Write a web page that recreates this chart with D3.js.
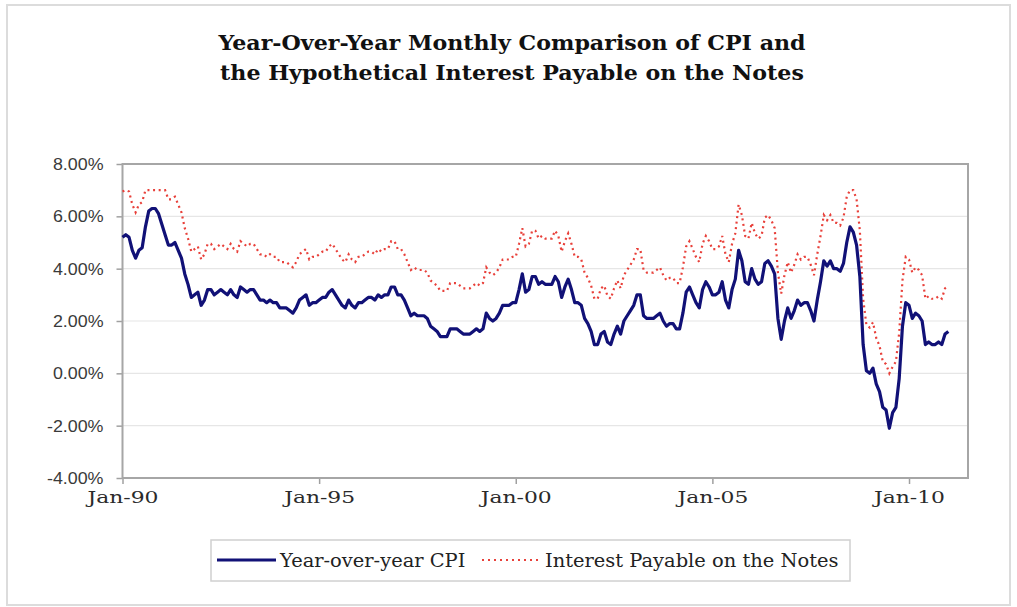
<!DOCTYPE html>
<html><head><meta charset="utf-8">
<script src="https://cdn.jsdelivr.net/npm/d3@7/dist/d3.min.js"></script>
<style>body{margin:0;background:#fff}svg{display:block}</style>
</head><body>
<svg id="c" width="1017" height="607"></svg>
<script>
// Year-over-year CPI, monthly Jan-1990 .. Jan-2011 (percent)
const cpi = [
5.2,5.3,5.2,4.7,4.4,4.7,4.8,5.6,6.2,6.3,6.3,6.1,
5.7,5.3,4.9,4.9,5.0,4.7,4.4,3.8,3.4,2.9,3.0,3.1,
2.6,2.8,3.2,3.2,3.0,3.1,3.2,3.1,3.0,3.2,3.0,2.9,
3.3,3.2,3.1,3.2,3.2,3.0,2.8,2.8,2.7,2.8,2.7,2.7,
2.5,2.5,2.5,2.4,2.3,2.5,2.8,2.9,3.0,2.6,2.7,2.7,
2.8,2.9,2.9,3.1,3.2,3.0,2.8,2.6,2.5,2.8,2.6,2.5,
2.7,2.7,2.8,2.9,2.9,2.8,3.0,2.9,3.0,3.0,3.3,3.3,
3.0,3.0,2.8,2.5,2.2,2.3,2.2,2.2,2.2,2.1,1.8,1.7,
1.6,1.4,1.4,1.4,1.7,1.7,1.7,1.6,1.5,1.5,1.5,1.6,
1.7,1.6,1.7,2.3,2.1,2.0,2.1,2.3,2.6,2.6,2.6,2.7,
2.7,3.2,3.8,3.1,3.2,3.7,3.7,3.4,3.5,3.4,3.4,3.4,
3.7,3.5,2.9,3.3,3.6,3.2,2.7,2.7,2.6,2.1,1.9,1.6,
1.1,1.1,1.5,1.6,1.2,1.1,1.5,1.8,1.5,2.0,2.2,2.4,
2.6,3.0,3.0,2.2,2.1,2.1,2.1,2.2,2.3,2.0,1.8,1.9,
1.9,1.7,1.7,2.3,3.1,3.3,3.0,2.7,2.5,3.2,3.5,3.3,
3.0,3.0,3.1,3.5,2.8,2.5,3.2,3.6,4.7,4.3,3.5,3.4,
4.0,3.6,3.4,3.5,4.2,4.3,4.1,3.8,2.1,1.3,2.0,2.5,
2.1,2.4,2.8,2.6,2.7,2.7,2.4,2.0,2.8,3.5,4.3,4.1,
4.3,4.0,4.0,3.9,4.2,5.0,5.6,5.4,4.9,3.7,1.1,0.1,
0.0,0.2,-0.4,-0.7,-1.3,-1.4,-2.1,-1.5,-1.3,-0.2,1.8,2.7,
2.6,2.1,2.3,2.2,2.0,1.1,1.2,1.1,1.1,1.2,1.1,1.5,
1.6
];
// Interest payable on the notes, monthly Jan-1990 .. Jan-2011 (percent)
const notes = [
6.95,7.0,6.95,6.45,6.15,6.45,6.55,7.0,7.0,7.0,7.0,7.0,
7.0,7.0,6.65,6.65,6.75,6.45,6.15,5.55,5.15,4.65,4.75,4.85,
4.35,4.55,4.95,4.95,4.75,4.85,4.95,4.85,4.75,4.95,4.75,4.65,
5.05,4.95,4.85,4.95,4.95,4.75,4.55,4.55,4.45,4.55,4.45,4.45,
4.25,4.25,4.25,4.15,4.05,4.25,4.55,4.65,4.75,4.35,4.45,4.45,
4.55,4.65,4.65,4.85,4.95,4.75,4.55,4.35,4.25,4.55,4.35,4.25,
4.45,4.45,4.55,4.65,4.65,4.55,4.75,4.65,4.75,4.75,5.05,5.05,
4.75,4.75,4.55,4.25,3.95,4.05,3.95,3.95,3.95,3.85,3.55,3.45,
3.35,3.15,3.15,3.15,3.45,3.45,3.45,3.35,3.25,3.25,3.25,3.35,
3.45,3.35,3.45,4.05,3.85,3.75,3.85,4.05,4.35,4.35,4.35,4.45,
4.45,4.95,5.55,4.85,4.95,5.45,5.45,5.15,5.25,5.15,5.15,5.15,
5.45,5.25,4.65,5.05,5.35,4.95,4.45,4.45,4.35,3.85,3.65,3.35,
2.85,2.85,3.25,3.35,2.95,2.85,3.25,3.55,3.25,3.75,3.95,4.15,
4.35,4.75,4.75,3.95,3.85,3.85,3.85,3.95,4.05,3.75,3.55,3.65,
3.65,3.45,3.45,4.05,4.85,5.05,4.75,4.45,4.25,4.95,5.25,5.05,
4.75,4.75,4.85,5.25,4.55,4.25,4.95,5.35,6.45,6.05,5.25,5.15,
5.75,5.35,5.15,5.25,5.95,6.05,5.85,5.55,3.85,3.05,3.75,4.25,
3.85,4.15,4.55,4.35,4.45,4.45,4.15,3.75,4.55,5.25,6.05,5.85,
6.05,5.75,5.75,5.65,5.95,6.75,7.0,7.0,6.65,5.45,2.85,1.85,
1.75,1.95,1.35,1.05,0.45,0.35,0.0,0.25,0.45,1.55,3.55,4.45,
4.35,3.85,4.05,3.95,3.75,2.85,2.95,2.85,2.85,2.95,2.85,3.25,
3.35
];
const tickMonths = [0, 60, 120, 180, 240];
const tickLabels = ["Jan-90", "Jan-95", "Jan-00", "Jan-05", "Jan-10"];
const yTicks = [-4, -2, 0, 2, 4, 6, 8];
const titleLines = ["Year-Over-Year Monthly Comparison of CPI and",
                    "the Hypothetical Interest Payable on the Notes"];
const seriesNames = ["Year-over-year CPI", "Interest Payable on the Notes"];

const svg = d3.select("#c");
const plot = {left: 122.5, right: 968, top: 164, bottom: 478};

// outer frame
svg.append("rect").attr("x", 7).attr("y", 5).attr("width", 1003).attr("height", 600)
  .attr("fill", "#fff").attr("stroke", "#dcdcdc").attr("stroke-width", 2);

const x = d3.scaleLinear().domain([0, 258]).range([plot.left, plot.right]);
const y = d3.scaleLinear().domain([-4, 8]).range([plot.bottom, plot.top]);

function stretch(sel, target) {
  sel.each(function() {
    const len = this.getComputedTextLength();
    d3.select(this).attr("textLength", target(len)).attr("lengthAdjust", "spacingAndGlyphs");
  });
}

// gridlines
svg.append("g").selectAll("line").data(yTicks.filter(d => d > -4 && d < 8)).join("line")
  .attr("x1", plot.left).attr("x2", plot.right)
  .attr("y1", d => y(d)).attr("y2", d => y(d))
  .attr("stroke", "#e6e6e6").attr("stroke-width", 1.2);

// y axis
const yAxis = svg.append("g").attr("transform", `translate(${plot.left},0)`)
  .call(d3.axisLeft(y).tickValues(yTicks).tickSize(6).tickPadding(13)
    .tickFormat(d => d3.format(".2f")(d).replace("\u2212", "-") + "%"));
yAxis.select(".domain").remove();
yAxis.selectAll(".tick line").attr("stroke", "#a0a0a0").attr("stroke-width", 1.5);
yAxis.selectAll(".tick text").attr("font-family", "'Liberation Sans', Arial, sans-serif")
  .attr("font-size", 17).attr("fill", "#3a3a3a");
stretch(yAxis.selectAll(".tick text"), len => len * 1.05);

// x axis
const xAxis = svg.append("g").attr("transform", `translate(0,${plot.bottom})`)
  .call(d3.axisBottom(x).tickValues(tickMonths).tickSize(6).tickPadding(7)
    .tickFormat((d, i) => tickLabels[i]));
xAxis.select(".domain").remove();
xAxis.selectAll(".tick line").attr("stroke", "#a0a0a0").attr("stroke-width", 1.5);
xAxis.selectAll(".tick text").attr("font-family", "'DejaVu Serif', serif")
  .attr("font-size", 17).attr("fill", "#2a2a2a");
stretch(xAxis.selectAll(".tick text"), len => 71);

// plot border
svg.append("rect").attr("x", plot.left).attr("y", plot.top)
  .attr("width", plot.right - plot.left).attr("height", plot.bottom - plot.top)
  .attr("fill", "none").attr("stroke", "#a6a6a6").attr("stroke-width", 2);

// lines
const line = d3.line().x((d, i) => x(i)).y(d => y(d)).curve(d3.curveLinear);
svg.append("path").datum(notes).attr("d", line).attr("fill", "none")
  .attr("stroke", "#e8403a").attr("stroke-width", 2.2).attr("stroke-dasharray", "2,3.6");
svg.append("path").datum(cpi).attr("d", line).attr("fill", "none")
  .attr("stroke", "#111177").attr("stroke-width", 3.2).attr("stroke-linejoin", "round");

// title
const title = svg.append("g");
title.selectAll("text").data(titleLines).join("text")
  .attr("x", 512).attr("y", (d, i) => 50 + i * 30)
  .attr("text-anchor", "middle")
  .attr("font-family", "'DejaVu Serif', serif").attr("font-weight", "bold")
  .attr("font-size", 20.5).attr("fill", "#111")
  .text(d => d);
stretch(title.selectAll("text"), len => len * 1.08);

// legend
const lg = svg.append("g");
lg.append("rect").attr("x", 211).attr("y", 540).attr("width", 639).attr("height", 41)
  .attr("fill", "#fff").attr("stroke", "#d0d0d0").attr("stroke-width", 1.5);
lg.append("line").attr("x1", 217).attr("x2", 276).attr("y1", 560).attr("y2", 560)
  .attr("stroke", "#111177").attr("stroke-width", 3.2);
lg.append("line").attr("x1", 482).attr("x2", 539).attr("y1", 560).attr("y2", 560)
  .attr("stroke", "#e8403a").attr("stroke-width", 2).attr("stroke-dasharray", "2,4");
const lt = lg.selectAll("text.l").data(seriesNames).join("text").attr("class", "l")
  .attr("x", (d, i) => i === 0 ? 280 : 545).attr("y", 566.5)
  .attr("font-family", "'DejaVu Serif', serif").attr("font-size", 18).attr("fill", "#222")
  .text(d => d);
stretch(lt, len => len * 1.08);
</script>
</body></html>
